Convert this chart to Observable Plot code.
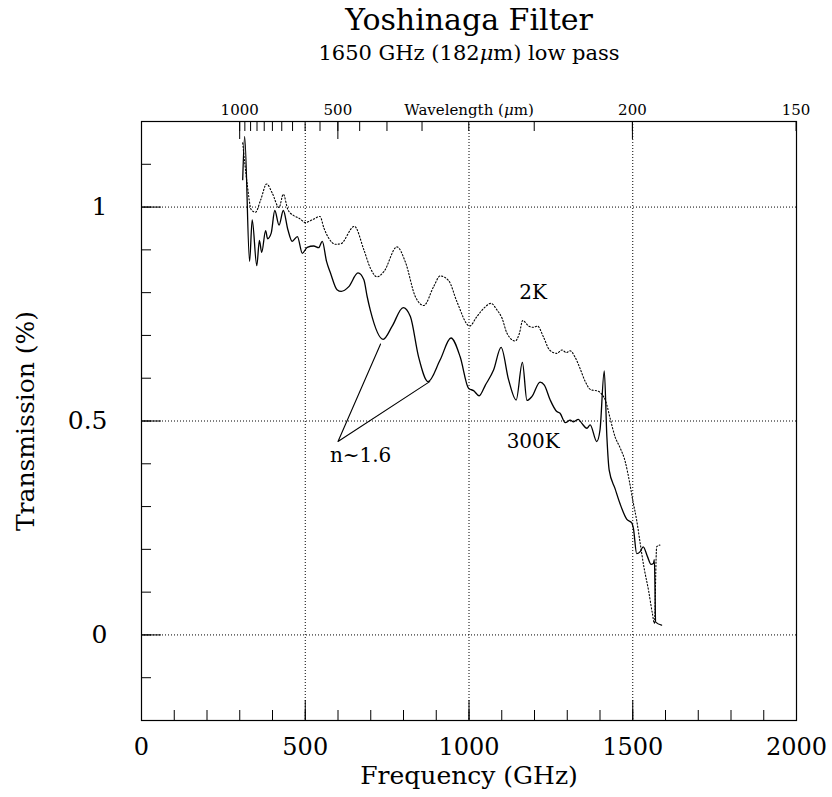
<!DOCTYPE html>
<html><head><meta charset="utf-8">
<script src="https://cdn.jsdelivr.net/npm/d3@7"></script>
<script src="https://cdn.jsdelivr.net/npm/@observablehq/plot@0.6"></script>
<style>html,body{margin:0;padding:0;background:#fff}</style>
</head><body><div id="chart"></div>
<script>
// ---- data ----
const freq300K = [309,315,330,338,352,360,367,379,385,396,407,420,433,447,460,476,491,506,526,541,552,565,577,597,610,633,661,679,689,699,738,765,799,821,846,875,912,945,973,999,1014,1031,1050,1075,1098,1121,1144,1163,1177,1192,1217,1230,1248,1268,1278,1294,1309,1319,1334,1344,1360,1370,1390,1400,1413,1421,1428,1446,1461,1482,1497,1502,1512,1522,1532,1545,1556,1563,1566,1570,1588];
const trans300K = [1.064,1.165,0.873,0.970,0.863,0.922,0.894,0.945,0.926,0.939,0.992,0.958,0.992,0.947,0.920,0.931,0.892,0.906,0.909,0.905,0.920,0.873,0.846,0.807,0.803,0.814,0.846,0.830,0.791,0.758,0.691,0.721,0.765,0.744,0.650,0.592,0.643,0.694,0.650,0.576,0.571,0.559,0.584,0.619,0.672,0.596,0.549,0.637,0.548,0.557,0.591,0.584,0.549,0.522,0.518,0.496,0.502,0.498,0.504,0.495,0.483,0.491,0.452,0.479,0.617,0.463,0.385,0.342,0.307,0.270,0.262,0.249,0.190,0.194,0.206,0.183,0.165,0.167,0.176,0.030,0.023];

const freq2K = [309,323,335,348,364,382,399,420,433,447,465,481,501,521,545,557,572,592,608,650,679,699,719,740,780,806,836,862,892,912,938,963,1002,1024,1050,1067,1085,1101,1116,1141,1154,1164,1182,1197,1209,1227,1246,1268,1284,1297,1309,1324,1339,1355,1372,1393,1405,1418,1431,1446,1461,1477,1490,1500,1512,1522,1534,1548,1560,1566,1573,1583];
const trans2K = [1.150,1.052,0.994,0.988,1.017,1.054,1.033,0.999,1.030,0.994,0.980,0.974,0.964,0.970,0.978,0.951,0.927,0.913,0.914,0.955,0.900,0.857,0.837,0.849,0.907,0.871,0.791,0.770,0.814,0.839,0.828,0.779,0.722,0.744,0.767,0.775,0.760,0.740,0.705,0.687,0.705,0.735,0.722,0.719,0.722,0.697,0.666,0.658,0.666,0.660,0.664,0.649,0.623,0.592,0.573,0.570,0.563,0.545,0.506,0.463,0.438,0.405,0.358,0.315,0.268,0.218,0.159,0.105,0.050,0.027,0.206,0.210];

// annotation "n~1.6": two leader lines meeting at a point
const annoFreq = [730, 600, 880];
const annoTrans = [0.680, 0.452, 0.592];
const labelTexts = ["2K", "300K", "n~1.6"];
const labelFreq = [1196, 1196, 669];
const labelTrans = [0.801, 0.453, 0.420];

// axes
const xMajorTicks = [0, 500, 1000, 1500, 2000];
const xMinorTicks = [0,100,200,300,400,500,600,700,800,900,1000,1100,1200,1300,1400,1500,1600,1700,1800,1900,2000];
const yMajorTicks = [0, 0.5, 1];
const yTickLabels = ["0", "0.5", "1"];
const yMinorTicks = [-0.2,-0.1,0,0.1,0.2,0.3,0.4,0.5,0.6,0.7,0.8,0.9,1.0,1.1,1.2];
const gridX = [500, 1000, 1500];
const gridY = [0, 0.5, 1];
const wavelengthTicks = [1000,950,900,850,800,750,700,650,600,550,500,450,400,350,300,250,200,150];
const wavelengthMajor = [1000, 500, 200];
const wavelengthLabels = [1000, 500, 200, 150];
const C_UM_GHZ = 299792.458; // f(GHz) = c / lambda(µm)

const titleText = "Yoshinaga Filter";
const subtitleText = "1650 GHz (182μm) low pass";
const xLabelText = "Frequency (GHz)";
const yLabelText = "Transmission (%)";
const topLabelText = "Wavelength (μm)";

// ---- layout ----
const W = 832, H = 797, mL = 141, mR = 36, mT = 121, mB = 77;
const fw = W - mL - mR, fh = H - mT - mB;
const serif = "'DejaVu Serif', serif";

const rows300K = freq300K.map((f, i) => ({f, t: trans300K[i]}));
const rows2K = freq2K.map((f, i) => ({f, t: trans2K[i]}));
const rowsAnno = annoFreq.map((f, i) => ({f, t: annoTrans[i]}));
const rowsLabels = labelTexts.map((s, i) => ({s, f: labelFreq[i], t: labelTrans[i]}));

const dots = "1,2";
const plot = Plot.plot({
  width: W, height: H,
  marginLeft: mL, marginRight: mR, marginTop: mT, marginBottom: mB,
  x: {domain: [0, 2000], axis: null},
  y: {domain: [-0.2, 1.2], axis: null},
  style: {fontFamily: serif, background: "white", color: "black", overflow: "visible"},
  marks: [
    // grid
    Plot.ruleX(gridX, {stroke: "black", strokeDasharray: dots, strokeWidth: 1}),
    Plot.ruleY(gridY, {stroke: "black", strokeDasharray: dots, strokeWidth: 1}),
    // ticks (inward)
    Plot.ruleX(xMinorTicks, {insetTop: fh - 10, stroke: "black"}),
    Plot.ruleX(xMajorTicks, {insetTop: fh - 20, stroke: "black"}),
    Plot.ruleY(yMinorTicks, {insetRight: fw - 10, stroke: "black"}),
    Plot.ruleY(yMajorTicks, {insetRight: fw - 20, stroke: "black"}),
    Plot.ruleX(wavelengthTicks.map(l => C_UM_GHZ / l), {insetBottom: fh - 10, stroke: "black"}),
    Plot.ruleX(wavelengthMajor.map(l => C_UM_GHZ / l), {insetBottom: fh - 18, stroke: "black"}),
    Plot.frame({stroke: "black", strokeWidth: 1.2}),
    // curves
    Plot.line(rows2K, {x: "f", y: "t", curve: "monotone-x", stroke: "black", strokeWidth: 1.1, strokeDasharray: "1.3,2"}),
    Plot.line(rows300K, {x: "f", y: "t", curve: "monotone-x", stroke: "black", strokeWidth: 1.3}),
    Plot.line(rowsAnno, {x: "f", y: "t", stroke: "black", strokeWidth: 1.1}),
    Plot.text(rowsLabels, {x: "f", y: "t", text: "s", fontSize: 20, textAnchor: "middle", lineAnchor: "middle"}),
    // tick labels
    Plot.text(xMajorTicks, {x: d => d, text: d => String(d), frameAnchor: "bottom", dy: 27, fontSize: 24, textAnchor: "middle", lineAnchor: "middle"}),
    Plot.text(yMajorTicks, {y: d => d, text: (d, i) => yTickLabels[i], frameAnchor: "left", dx: -34, textAnchor: "end", fontSize: 25, lineAnchor: "middle"}),
    Plot.text(wavelengthLabels, {x: d => C_UM_GHZ / d, text: d => String(d), frameAnchor: "top", dy: -11, fontSize: 15, textAnchor: "middle", lineAnchor: "middle"}),
    // axis titles
    Plot.text([topLabelText], {text: d => d, frameAnchor: "top", dy: -11, fontSize: 15, textAnchor: "middle", lineAnchor: "middle"}),
    Plot.text([xLabelText], {text: d => d, frameAnchor: "bottom", dy: 55, fontSize: 25, textAnchor: "middle", lineAnchor: "middle"}),
    Plot.text([yLabelText], {text: d => d, frameAnchor: "left", dx: -116, rotate: -90, fontSize: 25, textAnchor: "middle", lineAnchor: "middle"}),
    // titles
    Plot.text([titleText], {text: d => d, frameAnchor: "top", dy: -101, fontSize: 30, textAnchor: "middle", lineAnchor: "middle"}),
    Plot.text([subtitleText], {text: d => d, frameAnchor: "top", dy: -68, fontSize: 21, textAnchor: "middle", lineAnchor: "middle"})
  ]
});
document.getElementById("chart").appendChild(plot);

// italic μ
plot.querySelectorAll("text").forEach(t => {
  if (t.children.length === 0 && t.textContent.includes("μ")) {
    const parts = t.textContent.split("μ");
    t.textContent = "";
    parts.forEach((p, i) => {
      if (i > 0) {
        const mu = document.createElementNS("http://www.w3.org/2000/svg", "tspan");
        mu.setAttribute("font-style", "italic");
        mu.textContent = "μ";
        t.appendChild(mu);
      }
      if (p) {
        const s = document.createElementNS("http://www.w3.org/2000/svg", "tspan");
        s.textContent = p;
        t.appendChild(s);
      }
    });
  }
});
</script>
</body></html>
